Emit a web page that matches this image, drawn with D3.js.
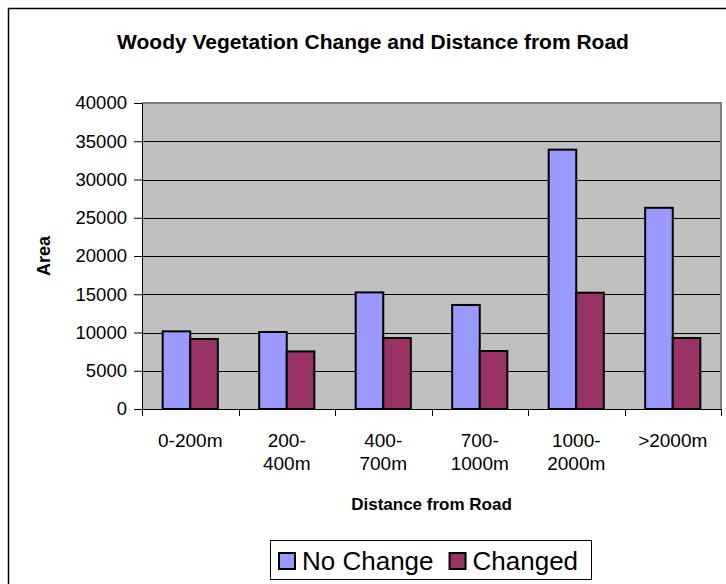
<!DOCTYPE html>
<html><head><meta charset="utf-8">
<script src="https://cdn.jsdelivr.net/npm/d3@7"></script>
<style>html,body{margin:0;padding:0;background:#fff;} svg{display:block;font-family:"Liberation Sans",Arial,sans-serif;}</style>
</head><body>
<script>
const categories = [["0-200m"], ["200-", "400m"], ["400-", "700m"], ["700-", "1000m"], ["1000-", "2000m"], [">2000m"]];
const seriesNames = ["No Change", "Changed"];
const noChange = [10150, 10070, 15240, 13600, 33900, 26300];
const changed = [9150, 7530, 9280, 7580, 15200, 9280];
const yTicks = [0, 5000, 10000, 15000, 20000, 25000, 30000, 35000, 40000];
const colors = ["#9999FF", "#993366"];

const W = 726, H = 584;
const svg = d3.select("body").append("svg").attr("width", W).attr("height", H);

// outer chart border
svg.append("rect").attr("x", 8.5).attr("y", 8.5).attr("width", W + 20).attr("height", H + 20)
  .attr("fill", "#fff").attr("stroke", "#000").attr("stroke-width", 1.5);

const plot = {x0: 142, x1: 721, y0: 103, y1: 409};
const catKeys = categories.map((c, i) => i);
const x = d3.scaleBand().domain(catKeys).range([plot.x0, plot.x1]).paddingInner(0).paddingOuter(0);
const y = d3.scaleLinear().domain([0, 40000]).range([plot.y1, plot.y0]);
const barW = x.bandwidth() / 3.5;
const xs = d3.scaleBand().domain([0, 1]).range([0, barW * 2]);

// plot background
svg.append("rect").attr("x", plot.x0).attr("y", plot.y0).attr("width", plot.x1 - plot.x0).attr("height", plot.y1 - plot.y0)
  .attr("fill", "#C0C0C0");

// gridlines
svg.append("g").selectAll("line").data(yTicks.filter(v => v > 0 && v < 40000)).join("line")
  .attr("x1", plot.x0).attr("x2", plot.x1).attr("y1", d => Math.round(y(d)) + 0.5).attr("y2", d => Math.round(y(d)) + 0.5)
  .attr("stroke", "#000").attr("stroke-width", 1);

// plot border (grey top/right)
svg.append("path").attr("d", `M${plot.x0},${plot.y0}H${plot.x1}V${plot.y1}`)
  .attr("fill", "none").attr("stroke", "#808080").attr("stroke-width", 2);

// bars
const data = [noChange, changed];
data.forEach((vals, s) => {
  svg.append("g").selectAll("rect").data(vals).join("rect")
    .attr("x", (d, i) => x(i) + (x.bandwidth() - barW * 2) / 2 + xs(s))
    .attr("y", d => y(d))
    .attr("width", barW)
    .attr("height", d => y(0) - y(d))
    .attr("fill", colors[s]).attr("stroke", "#000").attr("stroke-width", 2);
});

// y axis
const yAxis = d3.axisLeft(y).tickValues(yTicks).tickSize(8).tickPadding(7).tickFormat(d3.format("d"));
const gy = svg.append("g").attr("transform", `translate(${plot.x0},0)`).call(yAxis);
gy.select(".domain").attr("stroke", "#000");
gy.selectAll("text").attr("font-size", 18.5).attr("fill", "#000").attr("font-family", '"Liberation Sans",Arial,sans-serif');

// x axis
const xAxis = d3.axisBottom(x).tickSize(0).tickFormat("");
const gx = svg.append("g").attr("transform", `translate(0,${plot.y1})`).call(xAxis);
gx.select(".domain").attr("stroke", "#000");
gx.selectAll(".tick").remove();
const bounds = catKeys.map(i => x(i)).concat([plot.x1]);
gx.selectAll("line.b").data(bounds).join("line").attr("class", "b")
  .attr("x1", d => Math.round(d) + 0.5).attr("x2", d => Math.round(d) + 0.5).attr("y1", 0).attr("y2", 7).attr("stroke", "#000");

// category labels
const labels = svg.append("g");
categories.forEach((lines, i) => {
  const cx = x(i) + x.bandwidth() / 2;
  const t = labels.append("text").attr("x", cx).attr("y", 447)
    .attr("text-anchor", "middle").attr("font-size", 19).attr("fill", "#000");
  lines.forEach((ln, j) => t.append("tspan").attr("x", cx).attr("dy", j ? 23 : 0).text(ln));
});

// titles
svg.append("text").attr("x", 373).attr("y", 49).attr("text-anchor", "middle")
  .attr("font-size", 21).attr("font-weight", "bold").text("Woody Vegetation Change and Distance from Road");
svg.append("text").attr("x", (plot.x0 + plot.x1) / 2).attr("y", 510).attr("text-anchor", "middle")
  .attr("font-size", 17).attr("font-weight", "bold").text("Distance from Road");
svg.append("text").attr("transform", `translate(50,${(plot.y0 + plot.y1) / 2}) rotate(-90)`).attr("text-anchor", "middle")
  .attr("font-size", 18).attr("font-weight", "bold").text("Area");

// legend
const lg = svg.append("g");
lg.append("rect").attr("x", 270.5).attr("y", 540.5).attr("width", 321).attr("height", 39)
  .attr("fill", "#fff").attr("stroke", "#000").attr("stroke-width", 1);
let lx = 279;
seriesNames.forEach((n, s) => {
  lg.append("rect").attr("x", lx).attr("y", 553).attr("width", 16).attr("height", 16)
    .attr("fill", colors[s]).attr("stroke", "#000").attr("stroke-width", 2);
  const t = lg.append("text").attr("x", lx + 23).attr("y", 570).attr("font-size", 26).attr("fill", "#000").text(n);
  lx += 23 + t.node().getComputedTextLength() + 16;
});
</script>
</body></html>
